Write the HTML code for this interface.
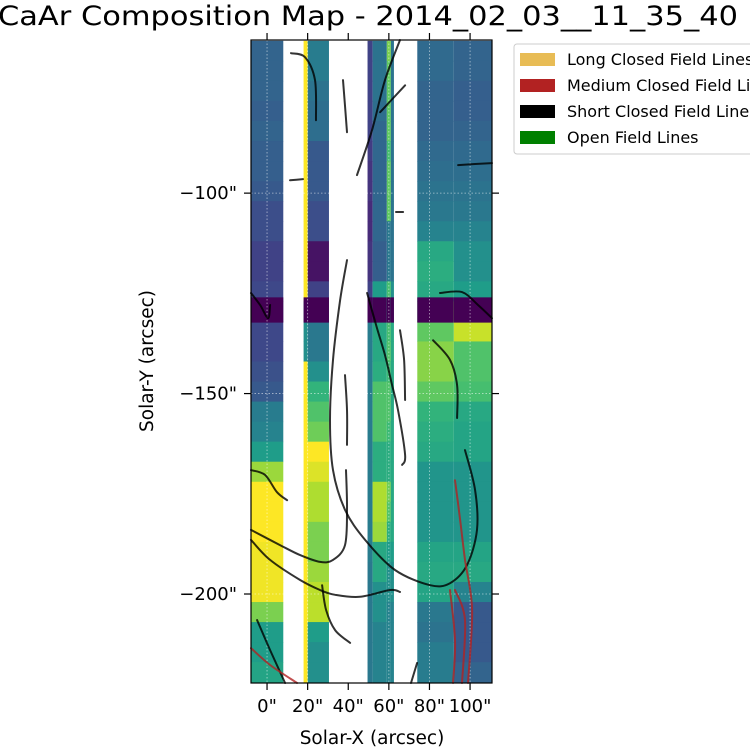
<!DOCTYPE html>
<html><head><meta charset="utf-8"><style>
html,body{margin:0;padding:0;background:#fff}
svg{display:block;font-family:"DejaVu Sans","Liberation Sans",sans-serif}
</style></head><body>
<svg id="chart" width="750" height="750" viewBox="0 0 750 750">
<text x="-2" y="25" font-size="27" textLength="740" lengthAdjust="spacingAndGlyphs">CaAr Composition Map - 2014_02_03__11_35_40</text>
<g id="cells"></g>
<g id="grid"></g>
<g id="lines"></g>
<rect x="251" y="40" width="241" height="643" fill="none" stroke="#000" stroke-width="1.2"/>
<g id="axes"></g>
<text x="372" y="744" font-size="18.5" text-anchor="middle">Solar-X (arcsec)</text>
<text transform="translate(153,361) rotate(-90)" font-size="18.5" text-anchor="middle">Solar-Y (arcsec)</text>
<g>
<rect x="514" y="44" width="245" height="110" rx="3" fill="#fff" stroke="#ccc" stroke-width="1"/>
<rect x="520" y="53" width="35" height="13" fill="#e8bc55"/>
<text x="567" y="65" font-size="16">Long Closed Field Lines</text>
<rect x="520" y="79" width="35" height="13" fill="#b22222"/>
<text x="567" y="91" font-size="16">Medium Closed Field Lines</text>
<rect x="520" y="105" width="35" height="13" fill="#000"/>
<text x="567" y="117" font-size="16">Short Closed Field Lines</text>
<rect x="520" y="131" width="35" height="13" fill="#008000"/>
<text x="567" y="143" font-size="16">Open Field Lines</text>
</g>
</svg>
<script>
// ---- data ----
const xTicks = [0, 20, 40, 60, 80, 100];
const xTickLabels = ['0"', '20"', '40"', '60"', '80"', '100"'];
const yTicks = [-100, -150, -200];
const yTickLabels = ['\u2212100"', '\u2212150"', '\u2212200"'];
const bandTop = -62;
const bandStep = 5;
const colA = [-8, 8];
const colB1 = [18, 20];
const colB = [20, 30.5];
const colC1 = [49.5, 52];
const colC = [52, 59];
const colC2 = [59, 61];
const colC3 = [61, 62.5];
const colD1 = [74, 92];
const colD2 = [92, 111];
const valsA  = [0.32,0.32,0.32,0.3,0.32,0.3,0.3,0.28,0.24,0.24,0.2,0.2,0.22,0.22,0.22,0.22,0.25,0.28,0.42,0.45,0.55,0.85,1,1,1,0.98,0.98,0.98,0.8,0.55,0.55,0.58];
const valsB1 = [1,1,1,1,1,1,1,1,1,1,1,1,1,0.5,0.5,0.5,1,1,1,1,1,1,1,1,1,1,1,1,1,1,1,1];
const valsB  = [0.42,0.42,0.38,0.36,0.36,0.28,0.28,0.28,0.24,0.24,0.05,0.05,0.2,0.3,0.4,0.4,0.5,0.65,0.72,0.78,1,0.95,0.88,0.88,0.8,0.8,0.85,0.9,0.9,0.55,0.5,0.5];
const valsC1 = [0.2,0.2,0.2,0.2,0.2,0.18,0.15,0.15,0.12,0.12,0.15,0.15,0.2,0.4,0.42,0.42,0.42,0.42,0.42,0.42,0.42,0.42,0.42,0.42,0.42,0.42,0.4,0.4,0.4,0.4,0.4,0.4];
const valsC  = [0.38,0.38,0.38,0.36,0.33,0.33,0.33,0.33,0.33,0.33,0.3,0.3,0.55,0.6,0.6,0.6,0.62,0.72,0.72,0.72,0.62,0.62,0.88,0.88,0.85,0.6,0.6,0.5,0.5,0.45,0.45,0.45];
const valsC2 = [0.8,0.75,0.75,0.75,0.75,0.7,0.75,0.75,0.75,0.4,0.4,0.4,0.7,0.6,0.7,0.72,0.68,0.72,0.72,0.68,0.62,0.62,0.78,0.72,0.62,0.55,0.5,0.5,0.45,0.45,0.45,0.45];
const valsC3 = [0.38,0.38,0.38,0.38,0.38,0.38,0.38,0.38,0.38,0.38,0.38,0.38,0.5,0.55,0.6,0.6,0.6,0.6,0.6,0.6,0.6,0.6,0.6,0.6,0.6,0.55,0.5,0.5,0.45,0.45,0.45,0.45];
const valsD1 = [0.34,0.34,0.32,0.32,0.32,0.34,0.36,0.38,0.4,0.45,0.6,0.62,0.6,0.7,0.75,0.82,0.82,0.75,0.65,0.62,0.6,0.52,0.52,0.52,0.52,0.58,0.6,0.58,0.4,0.38,0.42,0.42];
const valsD2 = [0.32,0.32,0.3,0.3,0.32,0.34,0.36,0.38,0.4,0.45,0.5,0.5,0.55,0.85,0.92,0.72,0.72,0.7,0.6,0.58,0.58,0.52,0.52,0.52,0.52,0.58,0.6,0.45,0.28,0.28,0.28,0.32];
const darkBand = [-126, -132.3];
const shortLines = [
 [[39.4,-116.7],[36,-126.7],[32.5,-141.6],[31,-156.6],[32.5,-169.1],[38.4,-179],[48.3,-186.5],[63,-194],[80.3,-197.8],[90.1,-197.3],[98.5,-192.8],[103.4,-184],[102.5,-174.1],[97.5,-164.1]],
 [[-7.9,-184],[6.4,-187.8],[16.3,-190.3],[26.1,-192],[32.5,-191.5],[38.4,-187.8],[39.4,-179],[38.9,-169.1]],
 [[-7.9,-186.5],[1.5,-191.5],[16.3,-196.5],[26.1,-199],[33.5,-200.2],[45.8,-200.7],[60.6,-199],[65.5,-199.5]],
 [[27.1,-197.8],[29.1,-204],[33.5,-209],[40.9,-212.2]],
 [[11.8,-65.1],[18.7,-66.1],[23.6,-71.8],[24.1,-81.8]],
 [[11.3,-96.8],[17.7,-96.5]],
 [[37.4,-71.8],[39.4,-84.8]],
 [[44.3,-95.5],[51.7,-84.3],[58.1,-71.8],[65.5,-61.8]],
 [[55.7,-79.8],[68,-73.1]],
 [[94.1,-93],[110.8,-92.5]],
 [[63.5,-104.7],[67,-104.7]],
 [[85.2,-124.9],[96,-124.7],[103.9,-127.9],[110.8,-131.2]],
 [[-7.9,-124.9],[-3.4,-127.9],[0.5,-131.2],[1.5,-127.9]],
 [[49.3,-124.9],[53.7,-132.9],[58.1,-140.4],[61.6,-147.9],[64.5,-154.1],[68,-165.3],[66.5,-167.8]],
 [[65.5,-134.2],[67.5,-141.6],[68,-151.6]],
 [[38.4,-145.4],[39.4,-154.1],[39.4,-162.8]],
 [[81.8,-136.7],[90.1,-141.6],[93.6,-147.9],[93.6,-156.1]],
 [[-7.9,-169.1],[-1,-170.3],[4.9,-174.6],[9.9,-176.6]],
 [[-4.9,-206.5],[1.5,-214],[8.9,-222.2]],
 [[73.9,-217.2],[70.9,-222.2]]
];
const mediumLines = [
 [[-7.9,-213.5],[1.5,-217.7],[14.8,-222.2]],
 [[92.6,-171.6],[95.1,-181.5],[97.5,-191.5],[101,-204],[99,-222.2]],
 [[92.6,-199],[97.5,-206.5],[96,-222.2]],
 [[90.1,-199],[92.6,-211.5],[91.6,-222.2]]
];
// ---- axes ----
const xMin=-7.9, xMax=110.8, yMax=-61.8, yMin=-222.2;
const L=251, R=492, T=40, B=683;
function sx(v){return L+(v-xMin)/(xMax-xMin)*(R-L);}
function sy(v){return T+(yMax-v)/(yMax-yMin)*(B-T);}
const stops=[[68,1,84],[72,40,120],[62,73,137],[49,104,142],[38,130,142],[31,158,137],[53,183,121],[109,205,89],[180,222,44],[253,231,37]];
function viridis(t){t=Math.max(0,Math.min(1,t));const p=t*(stops.length-1);const i=Math.min(stops.length-2,Math.floor(p));const f=p-i;
 const c=stops[i].map((a,k)=>Math.round(a+(stops[i+1][k]-a)*f));return `rgb(${c[0]},${c[1]},${c[2]})`;}
const NS='http://www.w3.org/2000/svg';
function mk(tag,attrs,parent){const e=document.createElementNS(NS,tag);for(const k in attrs)e.setAttribute(k,attrs[k]);parent.appendChild(e);return e;}
const cells=document.getElementById('cells');
const groups=[[colA,valsA,'a'],[colB1,valsB1,'b1'],[colB,valsB,'b'],[colC1,valsC1,'c1'],[colC,valsC,'c'],[colC2,valsC2,'c2'],[colC3,valsC3,'c3'],[colD1,valsD1,'d1'],[colD2,valsD2,'d2']];
groups.forEach(([cx,vals,nm])=>{
 vals.forEach((v,i)=>{
  const y0=bandTop-bandStep*i, y1=Math.max(yMin,y0-bandStep);
  const x0=sx(cx[0]), x1=sx(cx[1]);
  const r=mk('rect',{x:x0,y:sy(y0),width:x1-x0,height:sy(y1)-sy(y0)+0.5,fill:viridis(v)},cells);
  
  
 });
 const d=mk('rect',{x:sx(cx[0]),y:sy(darkBand[0]),width:sx(cx[1])-sx(cx[0]),height:sy(darkBand[1])-sy(darkBand[0]),fill:viridis(0)},cells);
 
 
});
const grid=document.getElementById('grid');
xTicks.forEach(v=>{const g=mk('line',{x1:sx(v),x2:sx(v),y1:T,y2:B,stroke:'#fff','stroke-opacity':0.6,'stroke-dasharray':'1.5,2','stroke-width':0.8},grid);
 
 });
yTicks.forEach(v=>{const g=mk('line',{x1:L,x2:R,y1:sy(v),y2:sy(v),stroke:'#fff','stroke-opacity':0.6,'stroke-dasharray':'1.5,2','stroke-width':0.8},grid);
 
 });
const lines=document.getElementById('lines');
function pathOf(pts){
 const P=pts.map(p=>[sx(p[0]),sy(p[1])]);
 let d='M'+P[0][0].toFixed(1)+','+P[0][1].toFixed(1);
 for(let i=0;i<P.length-1;i++){
  const p0=P[Math.max(0,i-1)],p1=P[i],p2=P[i+1],p3=P[Math.min(P.length-1,i+2)];
  const c1=[p1[0]+(p2[0]-p0[0])/6,p1[1]+(p2[1]-p0[1])/6];
  const c2=[p2[0]-(p3[0]-p1[0])/6,p2[1]-(p3[1]-p1[1])/6];
  d+=' C'+c1.map(v=>v.toFixed(1)).join(',')+' '+c2.map(v=>v.toFixed(1)).join(',')+' '+p2.map(v=>v.toFixed(1)).join(',');
 }
 return d;
}
shortLines.forEach(pts=>{const p=mk('path',{d:pathOf(pts),fill:'none',stroke:'#000','stroke-opacity':0.8,'stroke-width':2,'stroke-linejoin':'round','stroke-linecap':'round'},lines);
 
 });
mediumLines.forEach(pts=>{const p=mk('path',{d:pathOf(pts),fill:'none',stroke:'#b22222','stroke-opacity':0.8,'stroke-width':2,'stroke-linejoin':'round','stroke-linecap':'round'},lines);
 
 });
const axes=document.getElementById('axes');
xTicks.forEach((v,i)=>{
 const t=mk('line',{x1:sx(v),x2:sx(v),y1:B,y2:B+7,stroke:'#000','stroke-width':1.2},axes);
 
 
 const t2=mk('line',{x1:sx(v),x2:sx(v),y1:T,y2:T-7,stroke:'#000','stroke-width':1.2},axes);
 
 
 const tx=mk('text',{x:sx(v),y:B+29,'font-size':18,'text-anchor':'middle'},axes);
 tx.textContent=xTickLabels[i];
 
 
});
yTicks.forEach((v,i)=>{
 const t=mk('line',{x1:L-7,x2:L,y1:sy(v),y2:sy(v),stroke:'#000','stroke-width':1.2},axes);
 
 
 const t2=mk('line',{x1:R,x2:R+7,y1:sy(v),y2:sy(v),stroke:'#000','stroke-width':1.2},axes);
 
 
 const tx=mk('text',{x:L-14,y:sy(v)+6,'font-size':18,'text-anchor':'end'},axes);
 tx.textContent=yTickLabels[i];
 
 
});
</script>
</body></html>
